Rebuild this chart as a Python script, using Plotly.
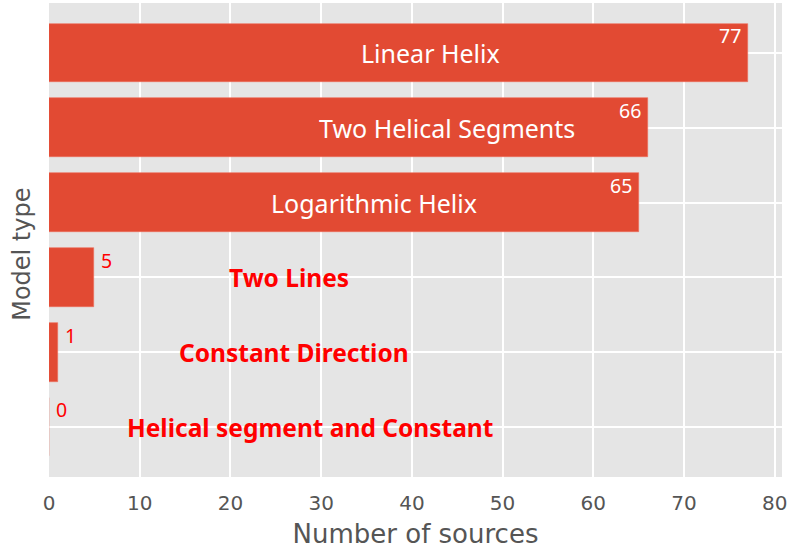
import plotly.graph_objects as go

categories = ["Linear Helix", "Two Helical Segments", "Logarithmic Helix",
              "Two Lines", "Constant Direction", "Helical segment and Constant"]
counts = [77, 66, 65, 5, 1, 0]
x_ticks = [0, 10, 20, 30, 40, 50, 60, 70, 80]

# annotation placement (layout, not data)
name_x = [42.1, 43.9, 35.8, 26.4, 27.0, 28.8]
big_threshold = 10

BAR = "#E24A33"
ypos = list(range(len(categories)))

fig = go.Figure()
fig.add_trace(go.Bar(
    x=counts, y=ypos, orientation="h", width=0.78,
    marker=dict(color=BAR, line=dict(color="#ee6f5c", width=0.6)),
    hoverinfo="skip", showlegend=False,
))

annotations = []
for i, (cat, v, nx) in enumerate(zip(categories, counts, name_x)):
    big = v >= big_threshold
    annotations.append(dict(
        x=nx, y=i, xref="x", yref="y", text=("<b>%s</b>" % cat) if not big else cat,
        showarrow=False, xanchor="center", yanchor="middle",
        font=dict(family="Noto Sans", size=25 if big else 24.5,
                  color="white" if big else "red"),
    ))
    annotations.append(dict(
        x=(v - 0.5) if big else (v + 0.5), y=i - 0.23, xref="x", yref="y",
        text=str(v), showarrow=False,
        xanchor="right" if big else "left", yanchor="middle",
        font=dict(family="Noto Sans", size=19.5, color="white" if big else "red"),
    ))

# y-axis title
annotations.append(dict(
    x=-0.036, y=0.47, xref="paper", yref="paper", text="Model type",
    textangle=-90, showarrow=False, xanchor="center", yanchor="middle",
    font=dict(family="DejaVu Sans", size=24, color="#555555"),
))

fig.update_layout(
    width=789, height=551,
    margin=dict(l=49, r=7, t=3, b=74),
    paper_bgcolor="white", plot_bgcolor="#E5E5E5",
    bargap=0,
    annotations=annotations,
    xaxis=dict(
        range=[0, 80.8], tickvals=x_ticks, ticktext=[str(t) for t in x_ticks],
        showgrid=True, gridcolor="white", gridwidth=1.5, zeroline=False,
        showline=False, ticks="", ticklabelstandoff=12, automargin=False,
        tickfont=dict(family="DejaVu Sans", size=20, color="#555555"),
        title=dict(text="Number of sources", standoff=10,
                   font=dict(family="DejaVu Sans", size=26, color="#555555")),
    ),
    yaxis=dict(
        range=[5.665, -0.665], tickvals=ypos, showticklabels=False,
        showgrid=True, gridcolor="white", gridwidth=1.5, zeroline=False,
        showline=False, ticks="", automargin=False,
    ),
)

fig.write_html("out.html", config={"displayModeBar": False},
               post_script="document.body.style.margin='0';")
